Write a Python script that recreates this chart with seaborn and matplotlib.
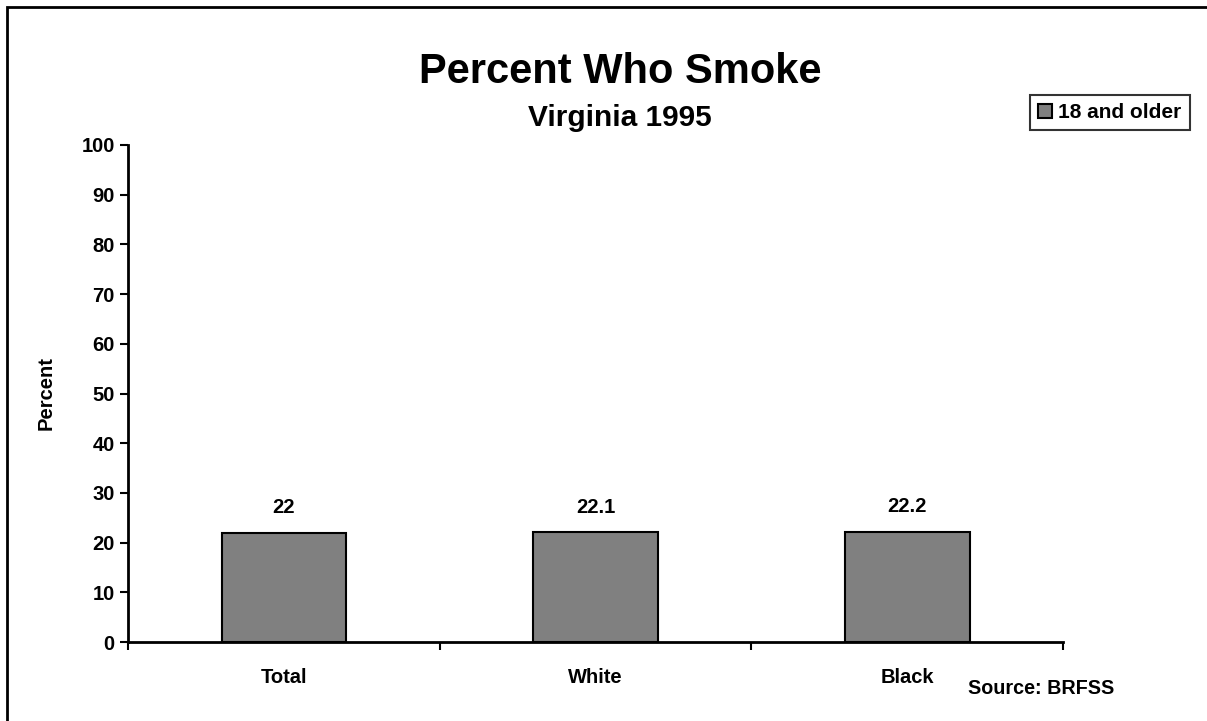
import numpy as np
import pandas as pd
import matplotlib
matplotlib.use("Agg")
import matplotlib.pyplot as plt
import seaborn as sns
from matplotlib.patches import Rectangle, Patch

# Data
groups = ["Total", "White", "Black"]
percent = [22, 22.1, 22.2]
value_labels = ["22", "22.1", "22.2"]
series_name = "18 and older"

df = pd.DataFrame({"group": groups, "percent": percent})

sns.set_style("white")
plt.rcParams['font.family'] = ['Liberation Sans', 'DejaVu Sans']
plt.rcParams['font.weight'] = 'bold'
plt.rcParams['text.color'] = 'black'
plt.rcParams['axes.labelcolor'] = 'black'
plt.rcParams['xtick.color'] = 'black'
plt.rcParams['ytick.color'] = 'black'

fig = plt.figure(figsize=(12.07, 7.21), dpi=100)
W, H = 1207, 721
ax = fig.add_axes([128/W, 1-642/H, (1063-128)/W, (642-145)/H])

sns.barplot(data=df, x="group", y="percent", color="#808080", width=0.4,
            edgecolor="black", linewidth=1.5, saturation=1, ax=ax)

# value labels above bars
for i, (v, lab) in enumerate(zip(percent, value_labels)):
    ax.text(i, v + 5, lab, ha="center", va="center", fontsize=14.5, fontweight="bold")

ax.set_xlim(-0.5, 2.5)
ax.set_ylim(0, 100)
ax.set_yticks(range(0, 101, 10))
ax.set_xticks([-0.5, 0.5, 1.5, 2.5])
ax.set_xticklabels([])
ax.tick_params(axis="x", direction="out", length=6, width=1.5, bottom=True)
ax.tick_params(axis="y", direction="out", length=6, width=1.5, left=True, labelsize=14.5)
for lab in ax.get_yticklabels():
    lab.set_fontweight("bold")

# category names sit between the boundary ticks
for i, g in enumerate(groups):
    ax.text(i, -7.1, g, ha="center", va="center", fontsize=14.5, fontweight="bold")

ax.set_xlabel("")
ax.set_ylabel("")
for s in ["top", "right"]:
    ax.spines[s].set_visible(False)
for s in ["left", "bottom"]:
    ax.spines[s].set_color("black")
    ax.spines[s].set_linewidth(2)

fig.text(46/W, 1 - 393/H, "Percent", rotation=90, ha="center", va="center",
         fontsize=14.5, fontweight="bold")
fig.text(620/W, 1 - 83/H, "Percent Who Smoke", ha="center", va="baseline",
         fontsize=30, fontweight="bold")
fig.text(620/W, 1 - 126/H, "Virginia 1995", ha="center", va="baseline",
         fontsize=21.5, fontweight="bold")
fig.text(1041/W, 1 - 688/H, "Source: BRFSS", ha="center", va="center",
         fontsize=14.2, fontweight="bold")

leg = fig.legend(handles=[Patch(facecolor="#808080", edgecolor="black", linewidth=1.5,
                                label=series_name)],
                 loc="center", bbox_to_anchor=(1110/W, 1 - 112.5/H), frameon=True,
                 fancybox=False, handlelength=0.65, handleheight=0.65, handletextpad=0.3,
                 borderpad=0.4, borderaxespad=0, prop={"weight": "bold", "size": 15})
leg.get_frame().set_edgecolor("black")
leg.get_frame().set_linewidth(1.5)

# outer frame (right and bottom edges fall outside the picture)
fig.patches.append(Rectangle((7/W, -0.1), 1.2, 1 - 7/H + 0.1, transform=fig.transFigure,
                             fill=False, edgecolor="black", linewidth=2))

fig.savefig("out.png", dpi=100)
